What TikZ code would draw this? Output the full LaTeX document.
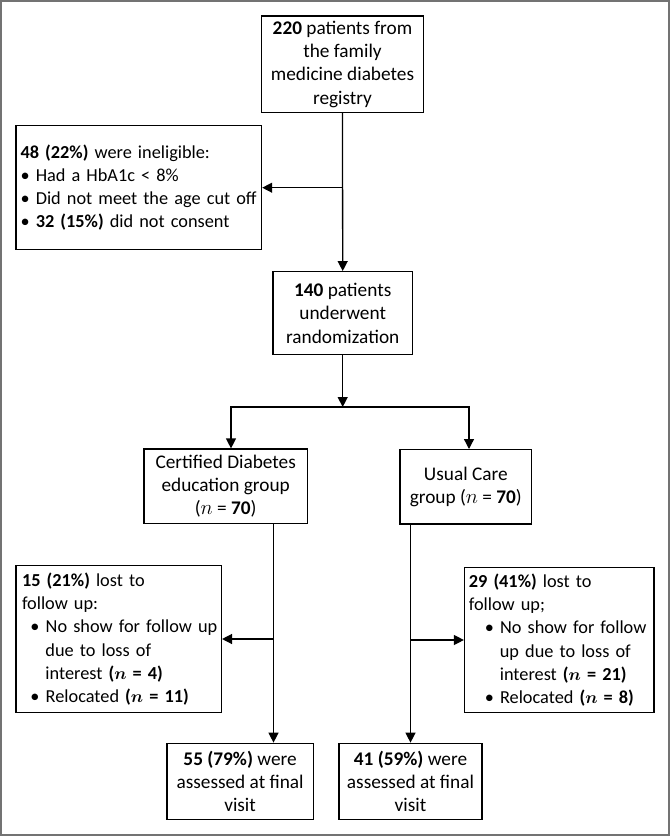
\documentclass[tikz,border=0pt]{standalone}
\usepackage{fontspec}
\setmainfont{Carlito}
\usepackage{bm}
\usepackage{tikz}
\usetikzlibrary{arrows.meta,positioning}
\newcommand{\bodyfont}{\fontsize{19.3}{23.2}\selectfont}
\newcommand{\listfont}{\fontsize{18.3}{23.2}\selectfont}
\newcommand{\bulind}[1]{\hspace*{#1}\textbullet\ }
\tikzset{
    box/.style = { draw, line width=1.3pt, rectangle, align=center,
        inner sep = 3pt,
        font=\bodyfont
    },
    lbox/.style = { box, align=left,
        inner xsep = 4.5pt,
        font=\listfont
    },
    arrow/.style = { line width=1.3pt, -{Triangle[length=10pt,width=10pt]} },
    darrow/.style = { line width=1.3pt, {Triangle[length=10pt,width=10pt]}-{Triangle[length=10pt,width=10pt]} },
    frame/.style = { draw=black!55, line width=2pt }
}

\begin{document}
\begin{tikzpicture}[x=1pt,y=-1pt]
        \useasboundingbox (0,0) rectangle (670,836);
        \draw[frame] (1,1) rectangle (669,835);

        % screening...
        \node[box, minimum width=162pt, minimum height=96.3pt] (reg) at (342.5,64.2)
            {\textbf{220} patients from\\ the family\\ medicine diabetes\\ registry};
        \node[lbox, text width=236.5pt, minimum height=124pt] (inel) at (138.8,187.7)
            {\mbox{\textbf{48 (22\%)} were ineligible:}\\
             \mbox{\textbullet\ Had a HbA1c < 8\%}\\
             \mbox{\textbullet\ Did not meet the age cut off}\\
             \mbox{\textbullet\ \textbf{32 (15\%)} did not consent}};
        \node[box, minimum width=139.4pt, minimum height=83pt] (rand) at (342.7,313.2)
            {\textbf{140} patients\\ underwent\\ randomization};

        % groups...
        \node[box, minimum width=163.3pt, minimum height=74.3pt] (cde) at (225.7,486.2)
            {Certified Diabetes\\ education group\\ ($n$ = \textbf{70})};
        \node[box, minimum width=131.6pt, minimum height=74.3pt] (uc) at (465.8,486.8)
            {Usual Care\\ group ($n$ = \textbf{70})};

        % follow up...
        \node[lbox, inner xsep=6pt, text width=193.4pt, minimum height=146.6pt] (lostcde) at (118.7,639)
            {\mbox{\textbf{15 (21\%)} lost to}\\ \mbox{follow up:}\\
             \mbox{\bulind{8.5pt}No show for follow up}\\
             \mbox{\hspace*{23.5pt}due to loss of}\\
             \mbox{\hspace*{23.5pt}interest \textbf{($\bm{n}$ = 4)}}\\
             \mbox{\bulind{8.5pt}Relocated \textbf{($\bm{n}$ = 11)}}};
        \node[lbox, inner xsep=4.3pt, text width=180.7pt, minimum height=144.6pt] (lostuc) at (559.2,640)
            {\mbox{\textbf{29 (41\%)} lost to}\\ \mbox{follow up;}\\
             \mbox{\bulind{16pt}No show for follow}\\
             \mbox{\hspace*{31pt}up due to loss of}\\
             \mbox{\hspace*{31pt}interest \textbf{($\bm{n}$ = 21)}}\\
             \mbox{\bulind{16pt}Relocated \textbf{($\bm{n}$ = 8)}}};
        \node[box, minimum width=146.2pt, minimum height=76pt] (fincde) at (240.1,781.3)
            {\textbf{55 (79\%)} were\\ assessed at final\\ visit};
        \node[box, minimum width=143pt, minimum height=76pt] (finuc) at (410.5,781.3)
            {\textbf{41 (59\%)} were\\ assessed at final\\ visit};

        \coordinate (split) at (342.7,407);
        \coordinate (splitl) at (231,407);
        \coordinate (splitr) at (469,407);
        \coordinate (trunkl) at (273.5,523.3);
        \coordinate (trunkr) at (410.5,524);

        % arrows...
        \draw[arrow] (reg.south) -- (rand.north);
        \draw[arrow] (reg.south |- inel.east) -- (inel.east);
        \draw[arrow] (rand.south) -- (split);
        \draw[darrow] (splitl |- cde.north) |- (split) -| (splitr |- uc.north);
        \draw[arrow] (trunkl) -- (trunkl |- fincde.north);
        \draw[arrow] (trunkl |- lostcde.east) -- (lostcde.east);
        \draw[arrow] (trunkr) -- (trunkr |- finuc.north);
        \draw[arrow] (trunkr |- lostuc.west) -- (lostuc.west);
\end{tikzpicture}
\end{document}
